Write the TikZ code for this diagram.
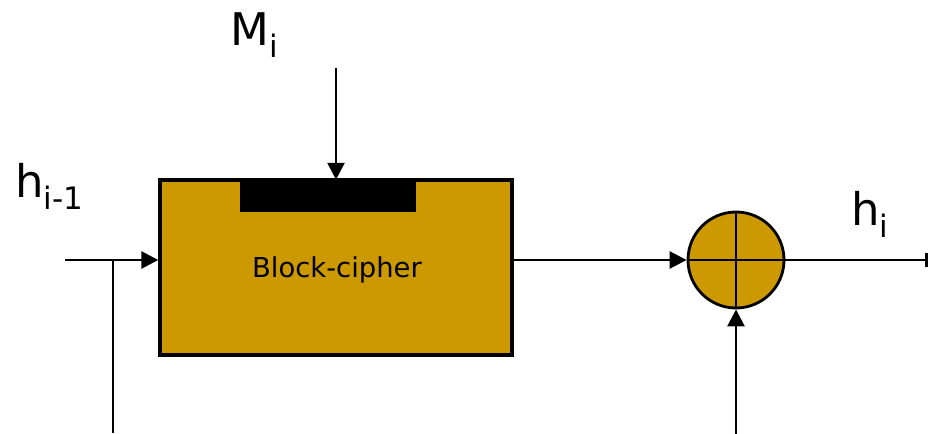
\documentclass[tikz,border=0pt]{standalone}
\usepackage{fontspec}
\setmainfont{DejaVu Sans}
\usetikzlibrary{positioning, arrows.meta}

\definecolor{cipherfill}{HTML}{CC9900}

\tikzset{
    flow/.style={line width=2pt, -{Triangle[length=12pt, width=12pt]}},
    plain/.style={line width=2pt},
    biglabel/.style={inner sep=0pt, anchor=base west, font=\fontsize{32}{38}\selectfont}
}
\newcommand{\lowsub}[1]{\raisebox{-0.27em}{\fontsize{22}{26}\selectfont #1}}

\begin{document}
\begin{tikzpicture}[x=0.025cm, y=-0.025cm]
    \useasboundingbox (0,0) rectangle (930,434);

    % Block cipher with key input
    \node (block) at (336,267.5) [rectangle, draw, line width=2.4pt, fill=cipherfill,
        minimum width=8.8cm, minimum height=4.375cm, inner sep=0pt] {};
    \node (blocktext) at (337,270) [font=\fontsize{19.5}{23}\selectfont] {Block-cipher};
    \node (key) at (328,196) [rectangle, fill=black, minimum width=4.4cm,
        minimum height=0.8cm, inner sep=0pt] {};

    % XOR
    \node (xor) at (736,260) [circle, draw, line width=2pt, fill=cipherfill,
        minimum size=2.4cm, inner sep=0pt] {};
    \draw[plain] (xor.north) -- (xor.south);
    \draw[plain] (xor.west) -- (xor.east);

    % Labels
    \node (mlab) at (230,45) [biglabel] {M\lowsub{i}};
    \node (hprev) at (15,197) [biglabel] {h\lowsub{i-1}};
    \node (hnext) at (851,225) [biglabel] {h\lowsub{i}};

    % Free ends
    \coordinate (hin) at (65,260);
    \coordinate (split) at (113,260);
    \coordinate (splitend) at (113,433);
    \coordinate (mtop) at (336,68);
    \coordinate (hout) at (928,260);
    \coordinate (feedend) at (736,434);

    % Connectors
    \draw[flow] (hin) -- (hin -| block.west);
    \draw[plain] (split) -- (splitend);
    \draw[flow] (mtop) -- (mtop |- key.north);
    \draw[flow] (xor.west -| block.east) -- (xor.west);
    \draw[plain, -{Bar[width=10pt]}] (xor.east) -- (hout);
    \draw[flow] (feedend) -- (xor.south);
\end{tikzpicture}
\end{document}
